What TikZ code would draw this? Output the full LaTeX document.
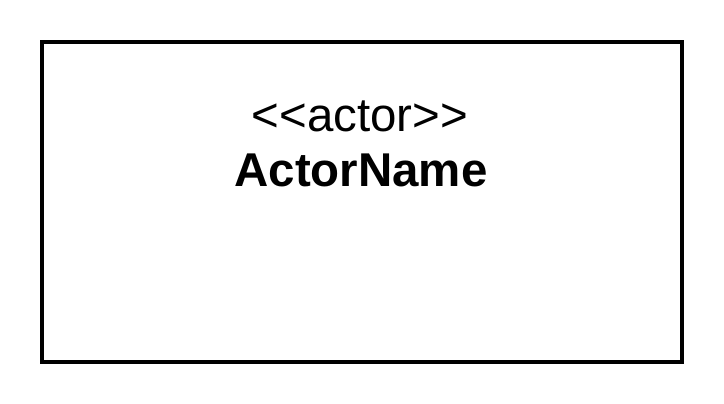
\documentclass[tikz,border=0pt]{standalone}
\usepackage{fontspec}
\setmainfont{Liberation Sans}
\newfontfamily\actorfont{Liberation Sans}
\usetikzlibrary{positioning}
\tikzset{
  actor box/.style={
    draw=black,
    line width=0.08cm,
    fill=white,
    rectangle,
    inner sep=0pt,
    minimum width=12.8cm,
    minimum height=6.4cm
  },
  stereo label/.style={
    anchor=base,
    inner sep=0pt,
    font=\actorfont\fontsize{27}{32}\selectfont
  },
  name label/.style={
    anchor=base,
    inner sep=0pt,
    font=\actorfont\bfseries\fontsize{27}{32}\selectfont
  }
}

\begin{document}
\begin{tikzpicture}[x=0.02cm, y=-0.02cm]

  %% ---- canvas ----
  \useasboundingbox (0,0) rectangle (724,404);

  %% ---- actor box ----
  \node[actor box] (box) at (362,202) {};

  %% ---- labels ----
  \node[stereo label] (stereo) at (360,131.5) {<\kern0pt<actor>\kern0pt>};
  \node[name label] (actorname) at (361,186.5) {ActorName};

\end{tikzpicture}
\end{document}
